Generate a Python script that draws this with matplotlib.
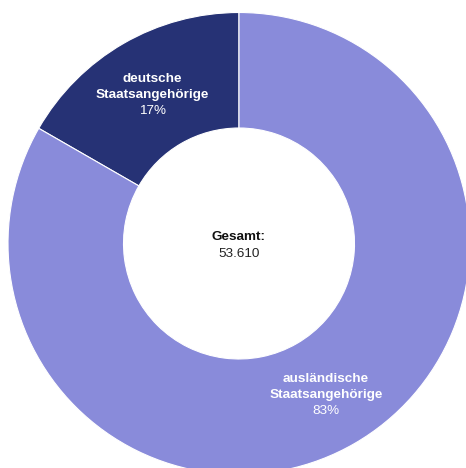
import numpy as np
import matplotlib.pyplot as plt

# Daten
name_line1 = ["deutsche", "ausländische"]
name_line2 = ["Staatsangehörige", "Staatsangehörige"]
values = [8950, 44660]
colors = ["#263275", "#898bda"]
total_label = "53.610"

plt.rcParams['font.family'] = ['Liberation Sans', 'DejaVu Sans']

fig = plt.figure(figsize=(4.66, 4.68), dpi=100)
# Achse so legen, dass der Ring wie im Original leicht abgeschnitten ist
ax = fig.add_axes([8 / 466, -6.5 / 468, 462 / 466, 462 / 468])

wedges, _ = ax.pie(values, colors=colors, startangle=90, counterclock=True,
                   radius=1, wedgeprops=dict(width=0.5, edgecolor="white", linewidth=0.8))

fs = 9.7
for w, l1, l2, v in zip(wedges, name_line1, name_line2, values):
    mid = np.deg2rad((w.theta1 + w.theta2) / 2)
    x, y = 0.75 * np.cos(mid), 0.75 * np.sin(mid) - 0.008
    pct = round(100 * v / sum(values))
    ax.text(x, y + 0.069, l1, ha="center", va="center", color="white",
            fontsize=fs, fontweight="bold")
    ax.text(x, y, l2, ha="center", va="center", color="white",
            fontsize=fs, fontweight="bold")
    ax.text(x, y - 0.067, f"{pct}%", ha="center", va="center", color="white", fontsize=fs)

ax.text(0, 0.029, "Gesamt:", ha="center", va="center", fontsize=fs, fontweight="bold", color="#111111")
ax.text(0, -0.045, total_label, ha="center", va="center", fontsize=fs, color="#222222")

ax.set_xlim(-1, 1)
ax.set_ylim(-1, 1)
ax.set_aspect("equal")
ax.axis("off")

fig.savefig("out.png", dpi=100)
